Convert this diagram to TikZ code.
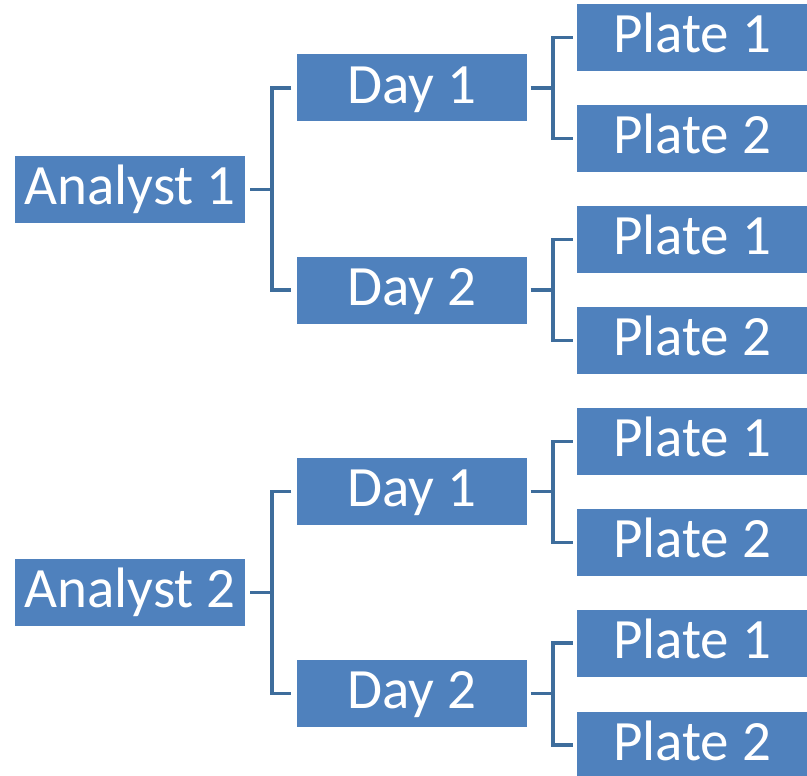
\documentclass[tikz,border=0pt]{standalone}
\usepackage{fontspec}
\setmainfont{Carlito}
\definecolor{boxblue}{HTML}{4F81BD}
\definecolor{linkblue}{HTML}{3E6D9C}
\begin{document}
\begin{tikzpicture}[x=1pt,y=-1pt,
  box/.style={fill=boxblue,draw=none,text=white,minimum width=230pt,minimum height=67pt,
    inner sep=0pt,font=\fontsize{57pt}{60pt}\selectfont,text height=36pt,text depth=6pt},
  conn/.style={draw=linkblue,line width=3.8pt}]
\clip (0,0) rectangle (807,776);
% analysts
\node[box] (a1) at (130,189.5) {Analyst 1};
\node[box] (a2) at (130,592.5) {Analyst 2};
% days
\node[box] (d11) at (411.5,88) {Day 1};
\node[box] (d12) at (411.5,290) {Day 2};
\node[box] (d21) at (411.5,491.5) {Day 1};
\node[box] (d22) at (411.5,693.5) {Day 2};
% plates
\node[box] (p111) at (692,37.5) {Plate 1};
\node[box] (p112) at (692,138.5) {Plate 2};
\node[box] (p121) at (692,239.5) {Plate 1};
\node[box] (p122) at (692,340.5) {Plate 2};
\node[box] (p211) at (692,441.5) {Plate 1};
\node[box] (p212) at (692,542.5) {Plate 2};
\node[box] (p221) at (692,643) {Plate 1};
\node[box] (p222) at (692,745) {Plate 2};
% connectors analyst -> day
\foreach \a/\da/\db in {a1/d11/d12, a2/d21/d22}{
  \draw[conn] ([xshift=5pt]\a.east) -- ++(22,0) coordinate (j\a);
  \draw[conn] ([xshift=-5pt]\da.west) -| (j\a) |- ([xshift=-5pt]\db.west);
}
% connectors day -> plate
\foreach \d/\pa/\pb in {d11/p111/p112, d12/p121/p122, d21/p211/p212, d22/p221/p222}{
  \draw[conn] ([xshift=4pt]\d.east) -- ++(22,0) coordinate (j\d);
  \draw[conn] ([xshift=-4pt]\pa.west) -| (j\d) |- ([xshift=-4pt]\pb.west);
}
\end{tikzpicture}
\end{document}
